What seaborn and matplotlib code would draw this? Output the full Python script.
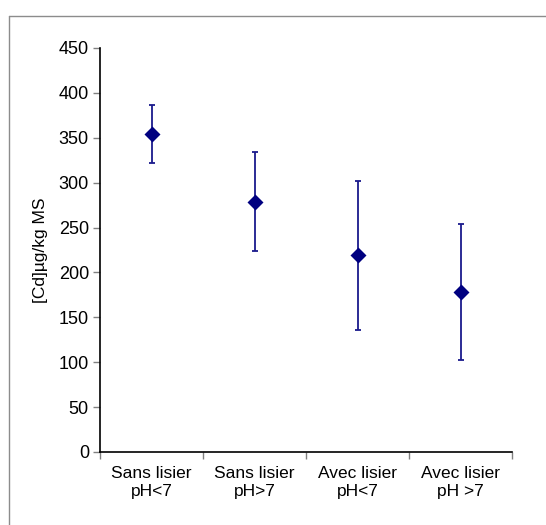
import matplotlib
matplotlib.use("Agg")
import matplotlib.pyplot as plt
from matplotlib.lines import Line2D
import seaborn as sns
import pandas as pd
import numpy as np

# data
categories = ["Sans lisier\npH<7", "Sans lisier\npH>7", "Avec lisier\npH<7", "Avec lisier\npH >7"]
means = [354, 279, 219, 178]
upper = [386, 334, 302, 254]
lower = [322, 224, 136, 102]

sns.set_theme(style="white")
plt.rcParams["font.family"] = ["Liberation Sans", "DejaVu Sans"]

df = pd.DataFrame({"cat": categories, "val": means})

fig = plt.figure(figsize=[5.46, 5.25], dpi=100)
ax = fig.add_axes([100 / 546, 1 - 452 / 525, 412 / 546, 404 / 525])

sns.pointplot(data=df, x="cat", y="val", errorbar=None, linestyle="none",
              marker="D", markersize=6, color="#000080", ax=ax, zorder=3)

x = np.arange(len(categories))
yerr = [np.array(means) - np.array(lower), np.array(upper) - np.array(means)]
ax.errorbar(x, means, yerr=yerr, fmt="none", ecolor="#1a1a8c", elinewidth=1.3,
            capsize=2.5, capthick=1.3, zorder=2)

ax.set_xlim(-0.5, len(categories) - 0.5)
ax.set_ylim(0, 450)
ax.set_yticks(range(0, 451, 50))
ax.set_xlabel("")
ax.set_ylabel("[Cd]µg/kg MS", fontsize=12.5, color="black", labelpad=8)

ax.tick_params(axis="y", which="major", left=True, length=5, width=1, color="#808080",
               labelsize=13, labelcolor="black", pad=3)
ax.tick_params(axis="x", which="major", bottom=False, length=0, labelsize=12.5,
               labelcolor="black", pad=10)
for lab in ax.get_xticklabels():
    lab.set_linespacing(1.25)
ax.set_xticks(np.arange(-0.5, len(categories), 1.0), minor=True)
ax.tick_params(axis="x", which="minor", bottom=True, length=5, width=1, color="#808080")

for s in ["top", "right"]:
    ax.spines[s].set_visible(False)
for s in ["left", "bottom"]:
    ax.spines[s].set_color("black")
    ax.spines[s].set_linewidth(1.2)

# outer chart frame
fig.add_artist(Line2D([9 / 546, 1.0], [1 - 16 / 525, 1 - 16 / 525], color="#8c8c8c", lw=1))
fig.add_artist(Line2D([9 / 546, 9 / 546], [0.0, 1 - 16 / 525], color="#8c8c8c", lw=1))

fig.savefig("out.png", dpi=100)
